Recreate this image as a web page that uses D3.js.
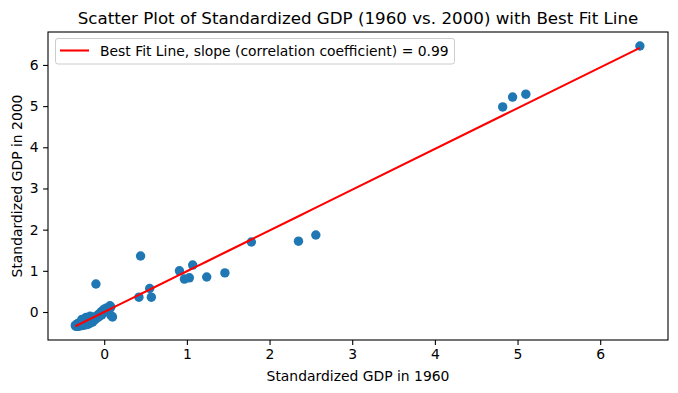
<!DOCTYPE html>
<html>
<head>
<meta charset="utf-8">
<script src="https://cdn.jsdelivr.net/npm/d3@7"></script>
<style>
  html, body { margin: 0; padding: 0; background: #fff; }
  svg { display: block; font-family: "DejaVu Sans", sans-serif; }
</style>
</head>
<body>
<svg id="chart" width="678" height="393"></svg>
<script>
// ---- data ----
const gdp1960 = [
  6.48, 4.82, 4.94, 5.10, 2.56, 2.35, 1.78, 1.46, 1.24, 1.07, 1.03, 0.97, 0.91,
  0.44, 0.55, 0.57, 0.42, -0.10,
  -0.35, -0.34, -0.34, -0.33, -0.33, -0.32, -0.32, -0.31, -0.31, -0.30, -0.30,
  -0.29, -0.29, -0.28, -0.28, -0.27, -0.27, -0.26, -0.26, -0.25, -0.25, -0.24,
  -0.24, -0.23, -0.23, -0.22, -0.22, -0.21, -0.21, -0.20, -0.20, -0.19, -0.19,
  -0.18, -0.18, -0.17, -0.16, -0.16, -0.15, -0.15, -0.14, -0.13, -0.12, -0.11,
  -0.10, -0.09, -0.08, -0.07, -0.06, -0.05, -0.04, -0.03, -0.02, 0.00, 0.01,
  0.03, 0.05, 0.07, 0.08, 0.10, 0.08, -0.27, -0.22, -0.17
];
const gdp2000 = [
  6.46, 4.98, 5.22, 5.29, 1.87, 1.72, 1.70, 0.95, 0.85, 1.14, 0.83, 0.80, 1.00,
  1.36, 0.57, 0.36, 0.36, 0.68,
  -0.33, -0.35, -0.31, -0.34, -0.30, -0.33, -0.28, -0.35, -0.31, -0.27, -0.33,
  -0.30, -0.25, -0.32, -0.28, -0.24, -0.33, -0.29, -0.21, -0.26, -0.32, -0.23,
  -0.29, -0.19, -0.27, -0.31, -0.24, -0.17, -0.28, -0.22, -0.30, -0.25, -0.15,
  -0.20, -0.28, -0.23, -0.18, -0.26, -0.13, -0.21, -0.24, -0.17, -0.20, -0.12,
  -0.16, -0.10, -0.14, -0.06, -0.11, -0.04, 0.00, -0.07, 0.03, 0.07, 0.02,
  0.10, 0.05, 0.15, 0.12, -0.12, -0.08, -0.18, -0.13, -0.10
];
const slope = 0.99;
const intercept = 0.0;
const xTicks = [0, 1, 2, 3, 4, 5, 6];
const yTicks = [0, 1, 2, 3, 4, 5, 6];
const xDomain = [-0.68, 6.82];
const yDomain = [-0.68, 6.80];
const titleText = "Scatter Plot of Standardized GDP (1960 vs. 2000) with Best Fit Line";
const xLabelText = "Standardized GDP in 1960";
const yLabelText = "Standardized GDP in 2000";
const legendText = "Best Fit Line, slope (correlation coefficient) = 0.99";

// ---- layout ----
const plotL = 48, plotR = 668, plotT = 32, plotB = 340;
const svg = d3.select("#chart");

const x = d3.scaleLinear().domain(xDomain).range([plotL, plotR]);
const y = d3.scaleLinear().domain(yDomain).range([plotB, plotT]);

const points = gdp1960.map((v, i) => ({ x: v, y: gdp2000[i] }));

// scatter
svg.append("g")
  .selectAll("circle")
  .data(points)
  .join("circle")
  .attr("cx", d => x(d.x))
  .attr("cy", d => y(d.y))
  .attr("r", 4.7)
  .attr("fill", "#1f77b4");

// best fit line (drawn across the data's x values)
const sorted = points.slice().sort((a, b) => a.x - b.x);
const line = d3.line().x(d => x(d.x)).y(d => y(slope * d.x + intercept));
svg.append("path")
  .datum(sorted)
  .attr("d", line)
  .attr("fill", "none")
  .attr("stroke", "#ff0000")
  .attr("stroke-width", 2.1);

// axes
const fs = 13.9;
const xAxis = svg.append("g")
  .attr("transform", `translate(0,${plotB})`)
  .call(d3.axisBottom(x).tickValues(xTicks).tickFormat(d3.format("d")).tickSizeOuter(0).tickSize(4.9).tickPadding(4.5));
const yAxis = svg.append("g")
  .attr("transform", `translate(${plotL},0)`)
  .call(d3.axisLeft(y).tickValues(yTicks).tickFormat(d3.format("d")).tickSizeOuter(0).tickSize(4.9).tickPadding(4.5));
[xAxis, yAxis].forEach(g => {
  g.select(".domain").remove();
  g.selectAll("line").attr("stroke", "#000").attr("stroke-width", 1.1);
  g.selectAll("text").attr("font-family", "DejaVu Sans").attr("font-size", fs).attr("fill", "#000");
});

// frame
svg.append("rect")
  .attr("x", plotL).attr("y", plotT)
  .attr("width", plotR - plotL).attr("height", plotB - plotT)
  .attr("fill", "none").attr("stroke", "#000").attr("stroke-width", 1.1);

// title & labels
svg.append("text")
  .attr("x", (plotL + plotR) / 2).attr("y", 24)
  .attr("text-anchor", "middle")
  .attr("font-size", 16.7)
  .text(titleText);
svg.append("text")
  .attr("x", (plotL + plotR) / 2).attr("y", 381)
  .attr("text-anchor", "middle")
  .attr("font-size", fs)
  .text(xLabelText);
svg.append("text")
  .attr("transform", `translate(22,${(plotT + plotB) / 2}) rotate(-90)`)
  .attr("text-anchor", "middle")
  .attr("font-size", fs)
  .text(yLabelText);

// legend
const lg = svg.append("g");
lg.append("rect")
  .attr("x", 55.5).attr("y", 38.5)
  .attr("width", 399).attr("height", 25.5)
  .attr("rx", 2.5)
  .attr("fill", "#fff").attr("fill-opacity", 0.8)
  .attr("stroke", "#cccccc").attr("stroke-width", 1);
lg.append("line")
  .attr("x1", 60).attr("x2", 89).attr("y1", 50.5).attr("y2", 50.5)
  .attr("stroke", "#ff0000").attr("stroke-width", 2.1);
lg.append("text")
  .attr("x", 100).attr("y", 55.5)
  .attr("font-size", fs)
  .text(legendText);
</script>
</body>
</html>
